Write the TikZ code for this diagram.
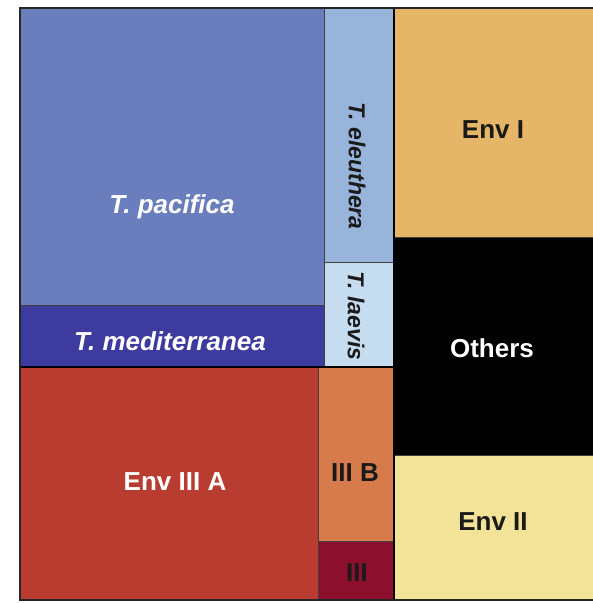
\documentclass[tikz,border=0pt]{standalone}
\usepackage{fontspec}
\setmainfont{Liberation Sans}
\usepackage{tikz}
\usetikzlibrary{positioning}

\definecolor{pacificaC}{HTML}{6A7EBD}
\definecolor{mediterraneaC}{HTML}{3E3B9F}
\definecolor{eleutheraC}{HTML}{98B4DA}
\definecolor{laevisC}{HTML}{C6DDF0}
\definecolor{envIIIAC}{HTML}{B83C2F}
\definecolor{IIIBC}{HTML}{D87B4C}
\definecolor{IIIC}{HTML}{8C0F2D}
\definecolor{envIC}{HTML}{E5B667}
\definecolor{envIIC}{HTML}{F3E398}
\definecolor{inkC}{HTML}{1A1A1A}

\begin{document}
\begin{tikzpicture}[x=1pt, y=-1pt,
    cell/.style={draw=black!75, line width=0.8pt},
    lbl/.style={font=\bfseries\fontsize{26}{30}\selectfont, text=inkC},
    sp/.style={font=\bfseries\itshape\fontsize{26}{30}\selectfont, text=white},
    spside/.style={font=\bfseries\itshape\fontsize{23}{27}\selectfont, text=inkC, rotate=-90}]
    \useasboundingbox (0,0) rectangle (593,603);

    % Tethya block
    \draw[cell, fill=pacificaC] (20,8) rectangle (324,305);
    \draw[cell, fill=mediterraneaC] (20,305) rectangle (324,367);
    \draw[cell, fill=eleutheraC] (324,8) rectangle (394,262);
    \draw[cell, fill=laevisC] (324,262) rectangle (394,367);

    % Env III block
    \draw[cell, fill=envIIIAC] (20,367) rectangle (318,600);
    \draw[cell, fill=IIIBC] (318,367) rectangle (394,541);
    \draw[cell, fill=IIIC] (318,541) rectangle (394,600);

    % Right column
    \draw[cell, fill=envIC] (394,8) rectangle (593,237);
    \draw[cell, fill=black] (394,237) rectangle (593,455);
    \draw[cell, fill=envIIC] (394,455) rectangle (593,600);

    % Frame
    \draw[line width=1.2pt, black] (20,367) -- (394,367);
    \draw[line width=1.2pt, black] (394,8) -- (394,600);
    \draw[line width=1.6pt, black!85] (593,8) -- (20,8) -- (20,600) -- (593,600);

    % Labels
    \node[sp] (pacifica) at (172,207) {T. pacifica};
    \node[sp] (mediterranea) at (170,341) {T. mediterranea};
    \node[spside] (eleuthera) at (357,166) {T. eleuthera};
    \node[spside] (laevis) at (356,316) {T. laevis};
    \node[lbl, text=white] (envIIIA) at (175,482) {Env III A};
    \node[lbl] (IIIB) at (355,473) {III B};
    \node[lbl] (III) at (357,573) {III};
    \node[lbl] (envI) at (493,130) {Env I};
    \node[lbl, text=white] (others) at (492,348) {Others};
    \node[lbl] (envII) at (493,522) {Env II};
\end{tikzpicture}
\end{document}
